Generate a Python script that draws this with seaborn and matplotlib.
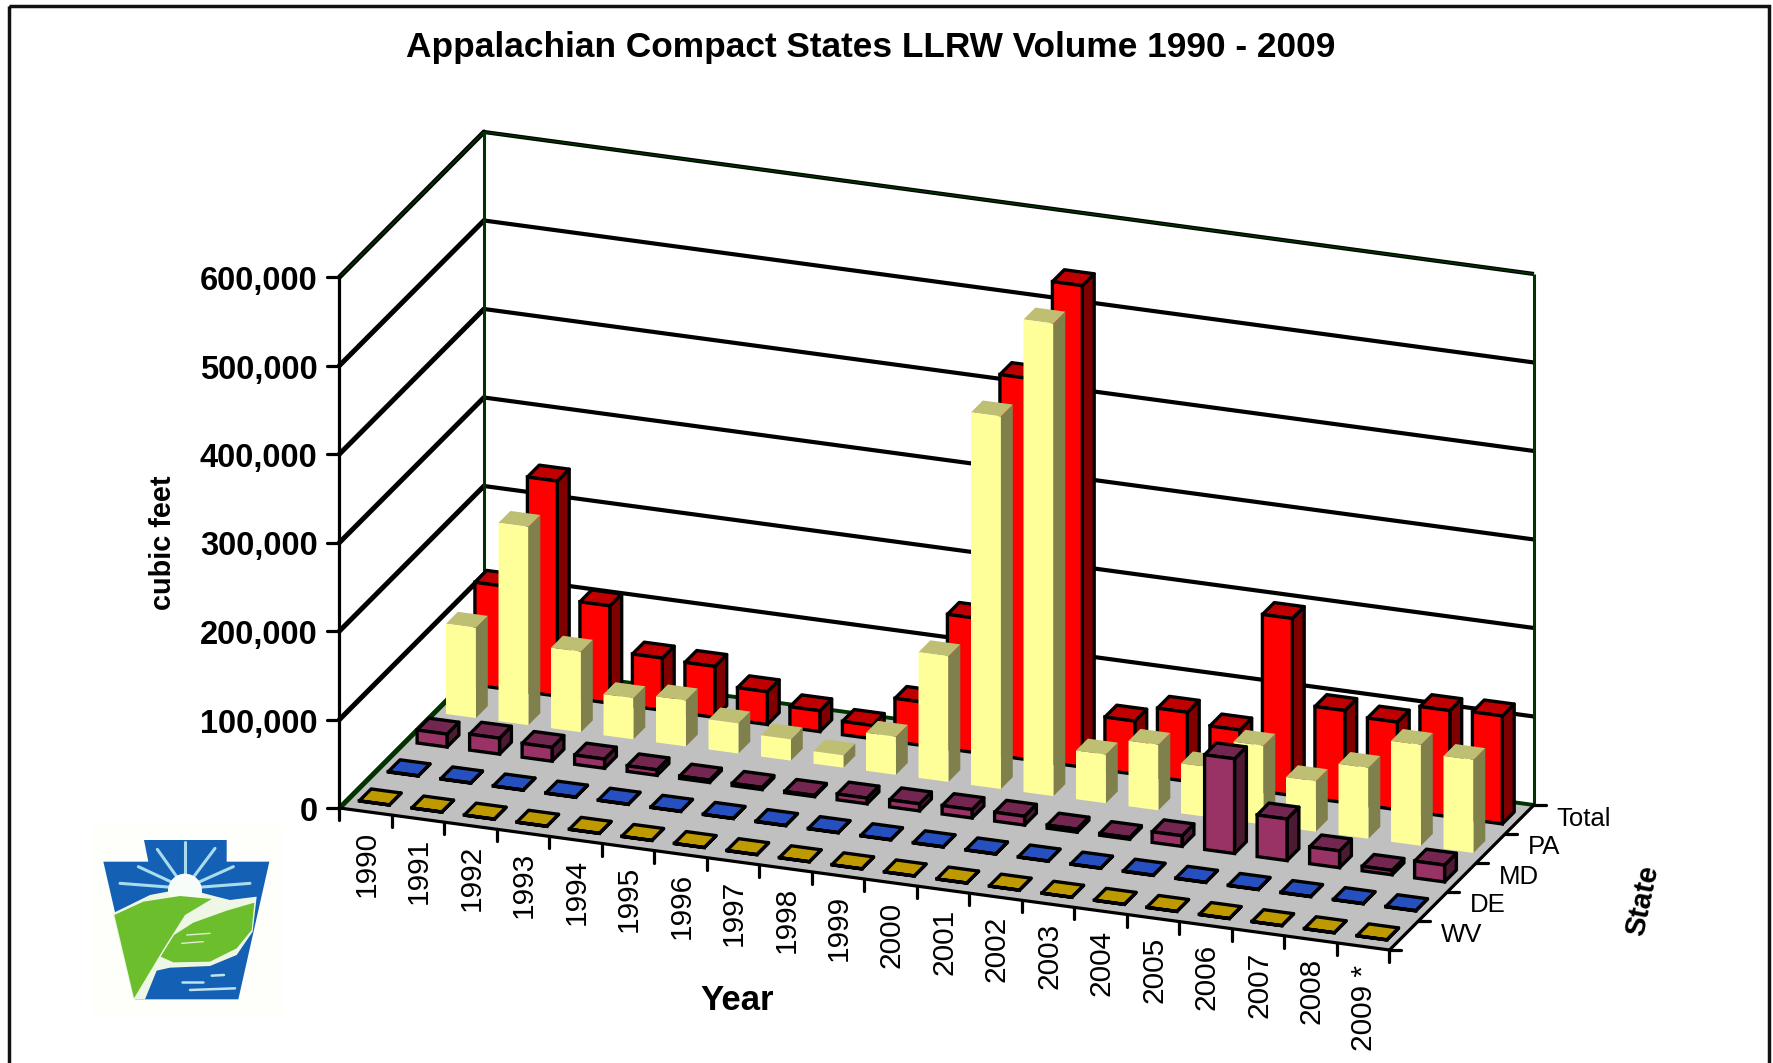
import numpy as np
import pandas as pd
import matplotlib
matplotlib.use("Agg")
import matplotlib.pyplot as plt
from matplotlib.patches import Polygon, Rectangle, Circle
from matplotlib.transforms import Affine2D
import seaborn as sns

years = ["1990", "1991", "1992", "1993", "1994", "1995", "1996", "1997", "1998", "1999",
         "2000", "2001", "2002", "2003", "2004", "2005", "2006", "2007", "2008", "2009 *"]
states = ["WV", "DE", "MD", "PA", "Total"]
wv = [150, 150, 150, 150, 150, 150, 150, 150, 150, 150, 150, 150, 150, 150, 150, 150, 150, 150, 150, 150]
de = [300, 300, 300, 300, 300, 300, 300, 300, 300, 300, 300, 300, 300, 300, 300, 300, 300, 300, 300, 300]
md = [14600, 18000, 15600, 10400, 6300, 2700, 2500, 1500, 6500, 8000,
      9500, 10000, 3500, 2000, 12000, 107000, 47000, 19000, 5000, 19000]
pa = [102000, 224000, 91000, 46500, 52000, 34000, 24000, 14000, 43000, 142000,
      421000, 534000, 55000, 74000, 56500, 89000, 57000, 80000, 114000, 105000]
total = [116000, 243000, 110000, 59000, 57600, 37000, 23500, 15000, 49000, 152000,
         431000, 544000, 60000, 78000, 66000, 200000, 104000, 99000, 120000, 122000]
value_ticks = [0, 100000, 200000, 300000, 400000, 500000, 600000]
title = "Appalachian Compact States LLRW Volume 1990 - 2009"
series = [wv, de, md, pa, total]

# front, top, side, edge colours per state
colors = {
    "WV": ("#FFCC00", "#BF9900", "#806600", "black"),
    "DE": ("#3366FF", "#2650BF", "#1A3380", "black"),
    "MD": ("#993366", "#732650", "#4D1A33", "black"),
    "PA": ("#FFFF99", "#BFBF73", "#80804D", "none"),
    "Total": ("#FF0000", "#C00000", "#800000", "black"),
}

# oblique projection of the chart box onto the pixel canvas
ORIGIN = np.array([339.5, 808.0])
YEAR_V = np.array([52.5, 7.1])
STATE_V = np.array([28.9, -29.0])
PX_PER_UNIT = 531.0 / 600000.0
BAR_W, BAR_D = 0.57, 0.41
LW = 2.4  # points


def project(u, v, val=0.0):
    p = ORIGIN + u * YEAR_V + v * STATE_V
    return np.array([p[0], p[1] - val * PX_PER_UNIT])


def face(pts, **kw):
    return Polygon([project(*p) for p in pts], closed=True, joinstyle="round", **kw)


sns.set_theme(style="white")
plt.rcParams["font.family"] = ["Liberation Sans", "DejaVu Sans"]

fig = plt.figure(figsize=(17.74, 10.63), dpi=100, facecolor="white")
ax = fig.add_axes([0, 0, 1, 1])

NY, NS = len(years), len(states)
VMAX = value_ticks[-1]

# floor
ax.add_patch(face([(0, 0), (NY, 0), (NY, NS), (0, NS)], facecolor="#C0C0C0", edgecolor="none", zorder=1))

# gridlines on the two walls
for k, v in enumerate(value_ticks[1:]):
    pts = np.array([project(0, 0, v), project(0, NS, v), project(NY, NS, v)])
    ax.plot(pts[:2, 0], pts[:2, 1], color="black", lw=3.6, zorder=2, solid_capstyle="round")
    ax.plot(pts[1:, 0], pts[1:, 1], color="black", lw=3.0, zorder=2, solid_capstyle="butt")

GREEN = "#003300"
for a, b, lw in [((0, NS, 0), (0, NS, VMAX), 2.2), ((NY, NS, 0), (NY, NS, VMAX), 2.2),
                 ((0, 0, 0), (0, NS, 0), 3.6), ((0, NS, 0), (NY, NS, 0), 2.8),
                 ((0, 0, VMAX), (0, NS, VMAX), 1.2), ((0, NS, VMAX), (NY, NS, VMAX), 1.2)]:
    pts = np.array([project(*a), project(*b)])
    ax.plot(pts[:, 0], pts[:, 1], color=GREEN, lw=lw, zorder=3, solid_capstyle="butt")

# axes lines and ticks
for a, b in [((0, 0, 0), (0, 0, VMAX)), ((0, 0, 0), (NY, 0, 0)), ((NY, 0, 0), (NY, NS, 0))]:
    pts = np.array([project(*a), project(*b)])
    ax.plot(pts[:, 0], pts[:, 1], color="black", lw=2.3, zorder=4, solid_capstyle="projecting")

for v in value_ticks:
    p = project(0, 0, v)
    ax.plot([p[0] - 12, p[0]], [p[1], p[1]], color="black", lw=2.3, zorder=4)
    ax.text(p[0] - 22, p[1] + 1, f"{v:,}", ha="right", va="center_baseline",
            fontsize=23.5, fontweight="bold", color="black")
for i in range(NY + 1):
    p = project(i, 0)
    ax.plot([p[0], p[0]], [p[1], p[1] + 12], color="black", lw=2.3, zorder=4)
for i, lab in enumerate(years):
    p = project(i + 0.5, 0)
    ax.text(p[0] + 1, p[1] + 19, lab, rotation=90, ha="center", va="top", fontsize=21.5, color="black")
for j in range(NS + 1):
    p = project(NY, j)
    ax.plot([p[0], p[0] + 12], [p[1], p[1]], color="black", lw=2.3, zorder=4)
for j, lab in enumerate(states):
    p = project(NY, j + 0.5)
    ax.text(p[0] + 37, p[1] - 1, lab, ha="left", va="center", fontsize=18.5, color="black")

# bars: back row first, earlier years first within a row
df = pd.DataFrame({"state": np.repeat(states, NY),
                   "pos": np.tile(np.arange(NY) + 0.5, NS),
                   "volume": np.concatenate(series)})
for j in range(NS - 1, -1, -1):
    st = states[j]
    front, top, side, edge = colors[st]
    v0 = j + 0.5 - BAR_D / 2
    T = Affine2D.from_values(YEAR_V[0], YEAR_V[1], 0, -PX_PER_UNIT,
                             ORIGIN[0] + v0 * STATE_V[0], ORIGIN[1] + v0 * STATE_V[1])
    n0 = len(ax.patches)
    sns.barplot(data=df[df.state == st], x="pos", y="volume", native_scale=True, width=BAR_W,
                color=front, saturation=1, errorbar=None, edgecolor=edge,
                linewidth=LW if edge != "none" else 0, legend=False, ax=ax,
                transform=T + ax.transData)
    for r in list(ax.patches[n0:]):
        u0, u1, h = r.get_x(), r.get_x() + r.get_width(), r.get_height()
        i = int(round(u0 + r.get_width() / 2 - 0.5))
        zo = 10 + (NS - 1 - j) * 100 + i * 3
        r.set_zorder(zo + 2)
        r.set_clip_on(False)
        lw = LW if edge != "none" else 0
        ax.add_patch(face([(u1, v0, 0), (u1, v0 + BAR_D, 0), (u1, v0 + BAR_D, h), (u1, v0, h)],
                          facecolor=side, edgecolor=edge, linewidth=lw, zorder=zo))
        ax.add_patch(face([(u0, v0, h), (u1, v0, h), (u1, v0 + BAR_D, h), (u0, v0 + BAR_D, h)],
                          facecolor=top, edgecolor=edge, linewidth=lw, zorder=zo + 1))

ax.set_xlabel("")
ax.set_ylabel("")

# titles
ax.text(870.5, 47, title, ha="center", va="center", fontsize=25.4, fontweight="bold", color="black")
ax.text(163, 543, "cubic feet", rotation=90, ha="center", va="center", fontsize=20.8, fontweight="bold", color="black")
ax.text(737, 1000, "Year", ha="center", va="center", fontsize=25, fontweight="bold", color="black")
ax.text(1643, 900, "State", rotation=78, ha="center", va="center", fontsize=21, fontweight="bold", color="black")

# outer frame
ax.add_patch(Rectangle((9.5, 6), 1759.5, 1100, facecolor="none", edgecolor="#111111", lw=2.5, zorder=1000, clip_on=True))


# logo (decoration)
def lp(pts):
    return [(70 + x / 3, 800 + y / 3) for x, y in pts]


LZ = 2000
ax.add_patch(Polygon(lp([(65, 75), (640, 75), (640, 650), (65, 650)]), facecolor="#FEFEFA", edgecolor="none", zorder=LZ))
ax.add_patch(Polygon(lp([(222, 120), (470, 120), (470, 185), (598, 185), (505, 598), (195, 598), (100, 185), (235, 185)]),
                     facecolor="#1460B4", edgecolor="none", zorder=LZ + 1))
ax.add_patch(Polygon(lp([(128, 340), (240, 285), (345, 265), (440, 290), (480, 300), (560, 290), (548, 395), (500, 465),
                         (420, 498), (300, 503), (260, 512), (225, 598), (190, 598)]),
                     facecolor="#EEF6E6", edgecolor="none", zorder=LZ + 2))
for (x, y) in [(345, 125), (262, 148), (435, 145), (205, 200), (490, 200), (150, 250), (540, 250)]:
    q = np.array(lp([(345, 265), (x, y)]))
    ax.plot(q[:, 0], q[:, 1], color="#A8DCEC", lw=2.2, zorder=LZ + 2, solid_capstyle="round")
ax.add_patch(Circle(lp([(345, 272)])[0], 17, facecolor="#F8FCF8", edgecolor="none", zorder=LZ + 2))
ax.add_patch(Polygon(lp([(133, 345), (220, 305), (330, 288), (425, 297), (345, 345), (285, 440), (192, 595)]),
                     facecolor="#6CBE2C", edgecolor="none", zorder=LZ + 3))
ax.add_patch(Polygon(lp([(553, 308), (545, 390), (500, 445), (420, 485), (310, 487), (272, 470), (312, 405), (370, 368), (470, 332)]),
                     facecolor="#6CBE2C", edgecolor="none", zorder=LZ + 3))
for seg in [[(335, 545), (400, 545)], [(360, 570), (495, 565)], [(425, 527), (462, 525)]]:
    q = np.array(lp(seg))
    ax.plot(q[:, 0], q[:, 1], color="#BFE3EE", lw=1.8, zorder=LZ + 3)
for seg in [[(350, 405), (420, 400)], [(335, 430), (400, 425)]]:
    q = np.array(lp(seg))
    ax.plot(q[:, 0], q[:, 1], color="#DDF0C8", lw=1.0, zorder=LZ + 4)

ax.set_xlim(0, 1774)
ax.set_ylim(1063, 0)
ax.axis("off")

fig.savefig("out.png", dpi=100, facecolor="white")
